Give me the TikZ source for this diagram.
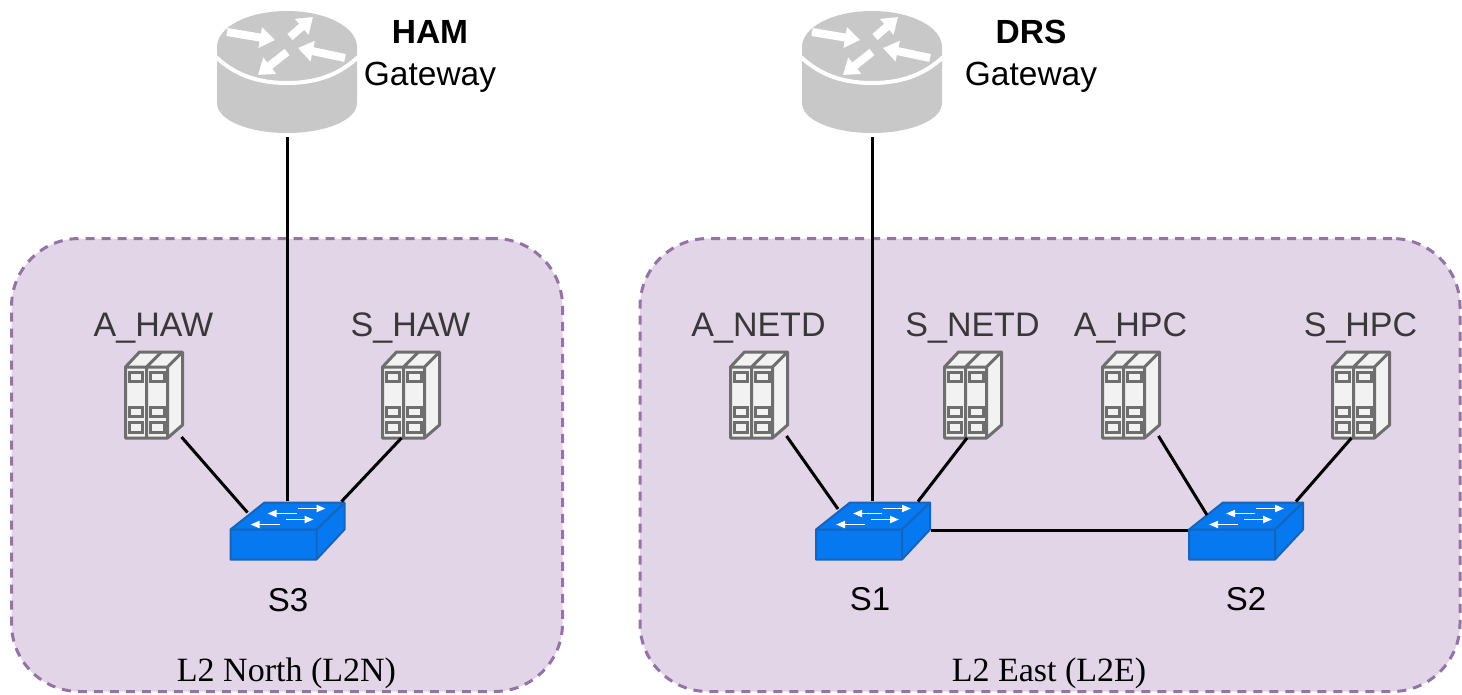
\documentclass[tikz,border=0pt]{standalone}
\usepackage{fontspec}
\setmainfont{Liberation Sans}
\newfontfamily\panelfont{Liberation Serif}
\usetikzlibrary{arrows.meta,positioning}
\definecolor{panelfill}{HTML}{E1D5E7}
\definecolor{paneldraw}{HTML}{9673A6}
\definecolor{routergray}{HTML}{C8C8C8}
\definecolor{switchblue}{HTML}{0678F0}
\definecolor{switchedge}{HTML}{1565BD}
\definecolor{servergray}{HTML}{6E6E6E}
\tikzset{panel/.style={rectangle,rounded corners=68pt,draw=paneldraw,fill=panelfill,line width=3pt,dash pattern=on 9pt off 7pt}}
\tikzset{panelText/.style={font=\panelfont\fontsize{34}{38}\selectfont,text=black,inner sep=0pt}}
\tikzset{hostText/.style={font=\fontsize{34}{38}\selectfont,text=black!78,inner sep=0pt,text height=24pt,text depth=6pt}}
\tikzset{switchText/.style={font=\fontsize{33}{36}\selectfont,text=black,inner sep=0pt}}
\tikzset{gateText/.style={font=\fontsize{33.5}{38}\selectfont,text=black,inner sep=0pt,align=center}}
\tikzset{link/.style={draw=black,line width=3pt}}
\tikzset{box/.style={rectangle,inner sep=0pt,outer sep=0pt}}
\tikzset{routerArrow/.style={draw=white,line width=8pt,-{Triangle[width=20pt,length=15pt]}}}
\tikzset{switchArrow/.style={draw=white,line width=1.8pt,-{Triangle[width=7pt,length=9pt]}}}
\tikzset{router/.pic={
	\node (-box) [box,minimum width=140pt,minimum height=130pt] at (0,0) {};
	\fill [routergray] (-70,-25) .. controls (-70,-45) and (-39,-61) .. (0,-61) .. controls (39,-61) and (70,-45) .. (70,-25) -- (70,31) .. controls (70,48) and (39,61) .. (0,61) .. controls (-39,61) and (-70,48) .. (-70,31) -- cycle;
	\draw [white,line width=4pt] (-71,-15) .. controls (-50,5) and (-25,11) .. (0,11) .. controls (25,11) and (50,5) .. (71,-15);
	\draw [routerArrow] (-60,-40) -- (-12,-32);
	\draw [routerArrow] (3,-35) -- (26,-55);
	\draw [routerArrow] (58,-14) -- (11,-24);
	\draw [routerArrow] (0,-20) -- (-29,3);
}}
\tikzset{switch/.pic={
	\node (-box) [box,minimum width=116pt,minimum height=59pt] at (0,0) {};
	\coordinate (-left) at (-40,-18);
	\coordinate (-right) at (54,-29);
	\filldraw [switchblue,draw=switchedge,line width=2pt,line join=round] (-57,-1) -- (-23,-28) -- (57,-28) -- (57,-1) -- (29,29) -- (-57,29) -- cycle;
	\draw [switchedge,line width=2pt,line join=round] (-57,-1) -- (29,-1) -- (57,-28) (29,-1) -- (29,29);
	\draw [switchArrow] (10,-22) -- (38,-22);
	\draw [switchArrow] (9,-17) -- (-20,-17);
	\draw [switchArrow] (-2,-11) -- (26,-11);
	\draw [switchArrow] (-8,-6) -- (-37,-6);
}}
\tikzset{server/.pic={
	\node (-box) [box,minimum width=59pt,minimum height=88pt] at (0,0) {};
	\coordinate (-right) at (28,43);
	\coordinate (-left) at (-9,44);
	\filldraw [fill=black!5,draw=servergray,line width=3pt,line join=round] (-28,-27) -- (-14,-42) -- (29,-42) -- (29,31) -- (14,44) -- (-28,44) -- cycle;
	\draw [servergray,line width=3pt,line join=round] (-28,-27) -- (14,-27) -- (29,-42) (14,-27) -- (14,44) (-7,-27) -- (-7,44) (-7,-27) -- (8,-42);
	\foreach \ypos/\yend in {-22/-13,13/22,28/38} {
		\draw [servergray,line width=3pt] (-24,\ypos) rectangle (-11,\yend);
		\draw [servergray,line width=3pt] (-3,\ypos) rectangle (11,\yend);
	}
}}
\begin{document}
\begin{tikzpicture}[x=1pt,y=-1pt]
\useasboundingbox (0,0) rectangle (1462,694);
\node (north) [panel,minimum width=551pt,minimum height=453pt] at (287,465) {};
\node (east) [panel,minimum width=820pt,minimum height=453pt] at (1050,465) {};
\node (northText) [panelText] at (286.5,673) {L2 North (L2N)};
\node (eastText) [panelText] at (1049,673) {L2 East (L2E)};

\pic (ham) at (287,72) {router};
\pic (drs) at (872,72) {router};
\node (hamText) [gateText] at (430,56) {\textbf{HAM}\\[4pt]Gateway};
\node (drsText) [gateText] at (1031,56) {\textbf{DRS}\\[4pt]Gateway};

\pic (s3) at (287.5,530.5) {switch};
\pic (s1) at (873,530.5) {switch};
\pic (s2) at (1246,530.5) {switch};
\node (s3Text) [switchText] at (288,600) {S3};
\node (s1Text) [switchText] at (870,599) {S1};
\node (s2Text) [switchText] at (1246,599) {S2};

\pic (ahaw) at (153.5,394) {server};
\pic (shaw) at (410.5,394) {server};
\pic (anetd) at (758.5,394) {server};
\pic (snetd) at (972.5,394) {server};
\pic (ahpc) at (1130.5,394) {server};
\pic (shpc) at (1360.5,394) {server};
\begin{scope}[node distance=7.5pt]
	\node (ahawText) [hostText,above =of ahaw-box] {A\_HAW};
	\node (shawText) [hostText,above =of shaw-box] {S\_HAW};
	\node (anetdText) [hostText,above =of anetd-box] {A\_NETD};
	\node (snetdText) [hostText,above =of snetd-box] {S\_NETD};
	\node (ahpcText) [hostText,above =of ahpc-box] {A\_HPC};
	\node (shpcText) [hostText,above =of shpc-box] {S\_HPC};
\end{scope}

\draw [link] (ham-box.south) -- (s3-box.north -| ham-box.south);
\draw [link] (drs-box.south) -- (s1-box.north -| drs-box.south);
\draw [link] (ahaw-right) -- (s3-left);
\draw [link] (shaw-left) -- (s3-right);
\draw [link] ([yshift=1pt]anetd-right) -- ([shift={(5,-3.5)}]s1-left);
\draw [link] ([xshift=3.5pt]snetd-left) -- ([xshift=-9pt]s1-right);
\draw [link] ([yshift=1pt]ahpc-right) -- ([shift={(1,2.5)}]s2-left);
\draw [link] (shpc-left) -- ([xshift=-4pt]s2-right);
\draw [link] (s1-box.east) -- (s2-box.west);
\end{tikzpicture}
\end{document}
